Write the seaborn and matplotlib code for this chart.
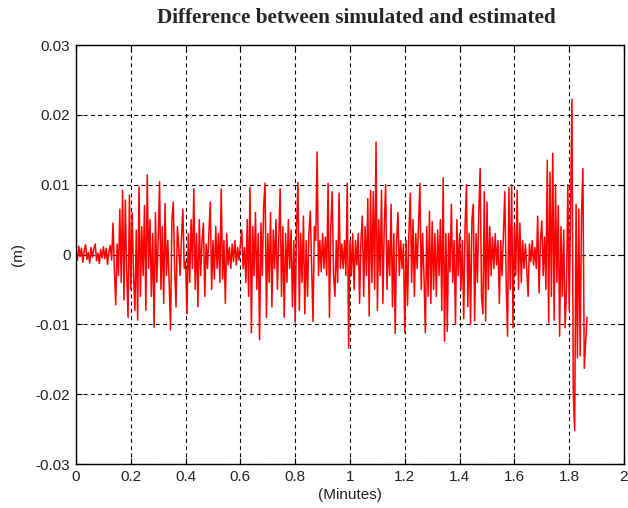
import numpy as np
import pandas as pd
import matplotlib
matplotlib.use("Agg")
import matplotlib.pyplot as plt
import seaborn as sns

# ---- data (difference in mm, one sample every 0.005 min) ----
sample_step_min = 0.005
diff_mm = [
    # 0.00 - 0.095
    0.5, -0.8, 1.2, -0.3, 0.9, -1.1, 0.6, 1.4, -0.7, 0.3, -1.2, 1.0, -0.4, 0.8, 1.5, -0.9, 0.2, -1.3, 0.7, -0.5,
    # 0.10 - 0.195
    1.1, -0.6, 0.9, -1.4, 0.4, 1.3, -0.8, 4.5, -2.0, -7.2, 1.5, -3.0, 6.5, -4.0, 9.2, -6.5, 7.8, -2.5, -9.0, 8.5,
    # 0.20 - 0.295
    -5.0, 6.0, -3.0, -8.0, 3.5, -9.4, 9.7, -6.0, 4.0, -3.0, 7.0, -8.0, 11.4, -2.0, 5.0, -6.0, 3.0, -10.4, 6.0, -4.0,
    # 0.30 - 0.395
    2.0, 10.4, -5.0, 4.0, -7.0, 7.3, -3.0, 2.0, -4.0, -10.8, 5.0, 7.5, -2.0, -7.5, 4.0, 1.0, -3.0, 2.5, 6.5, -2.0,
    # 0.40 - 0.495
    -1.0, -8.5, 3.0, -4.0, 5.0, -2.0, 9.4, -5.0, 3.0, -7.5, 5.0, -3.0, 2.0, 4.5, -6.0, 1.5, -2.0, 3.0, 7.5, -5.0,
    # 0.50 - 0.595
    2.0, -3.5, 4.0, -2.0, 3.0, -4.0, 9.4, -3.5, 2.0, -7.0, 3.0, -1.5, 1.0, -2.0, 1.5, -1.0, 2.0, -1.5, 1.0, -0.8,
    # 0.60 - 0.695
    1.5, 3.5, -2.0, 1.0, -4.0, 5.0, -6.0, 9.6, -11.2, 4.0, -3.0, 6.0, -5.0, 3.0, -12.2, 4.5, -3.0, 7.0, 10.2, -9.0,
    # 0.70 - 0.795
    3.0, -4.0, 6.0, -7.5, 3.5, -2.0, 5.0, -5.0, 2.0, 9.4, -6.0, 4.0, -9.0, 3.0, -4.0, 5.0, -2.0, 3.5, -7.5, 2.0,
    # 0.80 - 0.895
    -9.7, 4.0, 10.3, -8.0, 3.0, -4.0, 5.5, -8.5, 2.0, -6.0, 3.0, 6.2, -2.0, -9.6, 4.0, 2.0, 14.7, -3.0, 2.0, -2.5,
    # 0.90 - 0.995
    3.0, -2.0, 2.5, -3.0, 10.2, -9.0, 4.0, 9.0, -3.0, -6.0, 2.0, -4.0, 8.8, -2.0, 1.5, -2.0, 2.0, -3.0, 10.2, -13.4,
    # 1.00 - 1.095
    2.0, -3.0, 3.0, -5.0, 2.0, -1.5, 3.0, -7.0, 2.0, 5.5, -6.0, 4.0, -3.0, 8.0, -8.8, 9.2, -4.0, 9.0, -5.0, 16.1,
    # 1.10 - 1.195
    -8.0, 5.0, -3.0, 9.2, -7.0, 4.0, 10.0, -5.0, 2.0, -3.0, 7.2, -7.5, 3.0, -11.3, 2.0, 6.0, -3.0, 2.0, -2.0, 1.5,
    # 1.20 - 1.295
    -11.2, 2.0, -7.3, 3.0, 8.8, -4.0, 5.0, -6.0, 3.0, -2.0, 4.0, 10.2, -5.0, 3.0, -3.0, -11.2, 4.0, -6.0, 6.2, -7.0,
    # 1.30 - 1.395
    4.7, -5.0, 3.0, -6.0, 3.5, -3.0, 5.0, -8.0, 11.0, -12.4, 3.0, -11.0, 3.0, -2.5, 7.2, -4.0, 2.0, -10.0, 5.0, -3.0,
    # 1.40 - 1.495
    3.0, -5.0, 2.0, -9.2, 4.0, 10.0, -7.5, 3.0, -10.0, 5.0, 7.2, -9.5, 3.0, -4.0, 6.0, 12.3, -6.0, -8.5, 9.0, -9.5,
    # 1.50 - 1.595
    7.5, -5.0, 4.0, -3.0, 2.5, -2.0, 3.0, -1.5, 2.0, -7.0, 2.0, -3.0, 3.0, 9.0, -4.0, -11.7, 9.6, -5.0, 10.0, -10.5,
    # 1.60 - 1.695
    4.0, -3.0, 9.2, -5.0, 4.5, -4.0, 2.0, -2.0, 1.5, -2.0, -6.0, 1.5, -1.0, 2.0, -1.5, 1.0, -2.0, 5.5, -5.5, 2.0,
    # 1.70 - 1.795
    4.8, -3.0, 2.5, -5.0, 13.5, -9.8, 11.8, -6.0, 14.5, -9.4, 10.0, -4.0, 7.0, -11.7, 4.0, -6.0, 3.5, -10.5, -5.0, 10.0,
    # 1.80 - 1.865
    -8.0, 6.0, 22.2, -20.0, -25.2, 7.2, -14.8, 6.5, -14.5, 6.0, 12.3, -16.3, -12.6, -9.0,
]

x_ticks = [0, 0.2, 0.4, 0.6, 0.8, 1, 1.2, 1.4, 1.6, 1.8, 2]
x_tick_labels = ["0", "0.2", "0.4", "0.6", "0.8", "1", "1.2", "1.4", "1.6", "1.8", "2"]
y_ticks = [-0.03, -0.02, -0.01, 0, 0.01, 0.02, 0.03]
y_tick_labels = ["-0.03", "-0.02", "-0.01", "0", "0.01", "0.02", "0.03"]

title_text = "Difference between simulated and estimated"
x_label = "(Minutes)"
y_label = "(m)"

df = pd.DataFrame({
    "minutes": np.arange(len(diff_mm)) * sample_step_min,
    "diff_m": np.array(diff_mm) / 1000.0,
})

sns.set_style("white")
plt.rcParams["font.family"] = ["Liberation Sans", "DejaVu Sans"]

fig = plt.figure(figsize=(6.28, 5.08), dpi=100)
ax = fig.add_axes([76 / 628, 1 - 464 / 508, (624 - 76) / 628, (464 - 45) / 508])

sns.lineplot(data=df, x="minutes", y="diff_m", ax=ax, color="#FF0000",
             linewidth=1.1, estimator=None, sort=False)

ax.set_xlim(0, 2)
ax.set_ylim(-0.03, 0.03)
ax.set_xticks(x_ticks)
ax.set_xticklabels(x_tick_labels, fontsize=11)
ax.set_yticks(y_ticks)
ax.set_yticklabels(y_tick_labels, fontsize=11)
ax.tick_params(direction="in", length=4, width=0.8, top=True, right=True,
               bottom=True, left=True, colors="black", labelcolor="#222222", pad=4)
ax.grid(True, color="black", linestyle=(0, (3.5, 3)), linewidth=0.8)
for s in ax.spines.values():
    s.set_color("black")
    s.set_linewidth(1.0)
    s.set_visible(True)

ax.set_xlabel(x_label, fontsize=11, labelpad=3, color="#222222")
ax.set_ylabel(y_label, fontsize=11, labelpad=8, color="#222222")
fig.text(356 / 628, 1 - 18 / 508, title_text, ha="center", va="center",
         fontsize=15.3, fontweight="bold", family=["Liberation Serif", "DejaVu Serif"])

fig.savefig("out.png", dpi=100, facecolor="white")
